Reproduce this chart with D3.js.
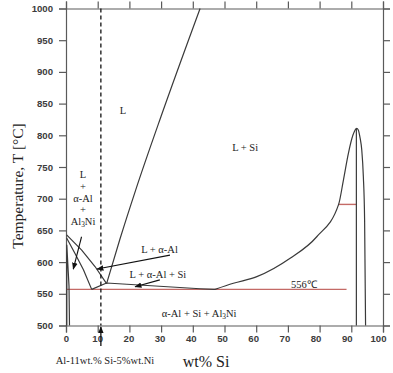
<!DOCTYPE html>
<html><head><meta charset="utf-8">
<script src="https://cdn.jsdelivr.net/npm/d3@7"></script>
<style>html,body{margin:0;padding:0;background:#fff;}svg{display:block;}</style>
</head><body>
<svg id="c" width="393" height="373"></svg>
<script>
// ---- data (wt% Si, Temperature °C) ----
const xTicks = [0,10,20,30,40,50,60,70,80,90,100];
const yTicks = [500,550,600,650,700,750,800,850,900,950,1000];
const liquidusAl = [[12.8,566],[17,636],[22,714],[30,830],[42.3,1000]];
const alphaLiquidus = [[0.2,643],[4.95,619],[9.15,593],[12.8,566]];
const alphaSolvus = [[0.2,638],[2.8,614],[5.5,588],[8.1,557]];
const threePhase = [[8.1,557],[12.8,567],[42.3,558],[47,557]];
const siLiquidus = [[47,557],[52.8,566.6],[60.2,577],[70.7,606],[79.1,640],[86,691],[87.5,729],[89.1,772],[90.5,800],[91.7,811],[92.2,808.5],[92.8,795],[93.3,777],[93.8,735],[94.2,666],[94.5,500]];
const siVertical = [[91.6,811],[91.6,500]];
const alSolidus = [[0.25,500],[0.25,627],[0.95,562],[1.1,500]];
const eutectic = [[0.2,557],[88.5,557]];
const peritecticTie = [[86,691],[91.6,691]];
const alloyX = 11;
const regionLabels = [
  {t:"L", x:18, y:836},
  {t:"L + Si", x:56.5, y:779},
  {t:"L + α-Al", x:29.5, y:617},
  {t:"L + α-Al + Si", x:29, y:578},
  {t:"α-Al + Si + Al|3|Ni", x:42, y:516},
  {t:"556℃", x:75, y:562}
];
const stackLabel = ["L","+","α-Al","+","Al|3|Ni"];
const arrows = [
  {from:[4.9,640], to:[2.3,589]},
  {from:[32.8,611], to:[9.8,589]},
  {from:[29.6,572], to:[21.8,561]}
];

// ---- chart ----
const svg = d3.select("#c");
const x = d3.scaleLinear().domain([0,100]).range([66,383]);
const y = d3.scaleLinear().domain([500,1000]).range([325.5,8.5]);
const frame = "#5a5a5a", ink = "#3a3a3a", red = "#c46a66";

svg.append("defs").append("marker").attr("id","ah").attr("viewBox","0 0 10 10")
  .attr("refX",9).attr("refY",5).attr("markerWidth",7).attr("markerHeight",7)
  .attr("orient","auto-start-reverse").attr("markerUnits","userSpaceOnUse")
  .append("path").attr("d","M0,1 L10,5 L0,9 Z").attr("fill","#111");

function axisStyle(g){
  g.select(".domain").attr("stroke",frame).attr("stroke-width",1.2);
  g.selectAll(".tick line").attr("stroke",frame).attr("stroke-width",1.2);
  g.selectAll(".tick text").attr("fill","#3c3c3c").attr("font-family","'Liberation Sans',Arial,sans-serif")
    .attr("font-weight","bold").attr("font-size","9.6px");
}
const fmt = d3.format("d");
svg.append("g").attr("transform","translate(66,0)")
  .call(d3.axisLeft(y).tickValues(yTicks).tickSize(7).tickPadding(6).tickFormat(fmt)).call(axisStyle);
const bx = svg.append("g").attr("transform","translate(0,325.5)")
  .call(d3.axisBottom(x).tickValues(xTicks).tickSize(7).tickPadding(3).tickFormat(fmt)).call(axisStyle);
bx.selectAll(".tick text").attr("dx", d => -d*0.05);
svg.append("g").attr("transform","translate(0,8.5)")
  .call(d3.axisTop(x).tickValues(xTicks).tickSize(7).tickFormat("")).call(axisStyle);
svg.append("g").attr("transform","translate(383,0)")
  .call(d3.axisRight(y).tickValues(yTicks).tickSize(7).tickFormat("")).call(axisStyle);

const line = d3.line().x(d=>x(d[0])).y(d=>y(d[1]));
const smooth = d3.line().x(d=>x(d[0])).y(d=>y(d[1])).curve(d3.curveMonotoneX);
function path(data, color, w, gen){
  svg.append("path").datum(data).attr("d",(gen||line)).attr("fill","none")
    .attr("stroke",color).attr("stroke-width",w).attr("stroke-linejoin","round");
}
path(eutectic, red, 1.4);
path(peritecticTie, red, 1.4);
path(liquidusAl, ink, 1.2, smooth);
path(siLiquidus, ink, 1.2, smooth);
[alphaLiquidus, alphaSolvus, threePhase, siVertical, alSolidus].forEach(d=>path(d, ink, 1.2));

// alloy composition line
svg.append("line").attr("x1",x(alloyX)).attr("x2",x(alloyX)).attr("y1",y(1000)).attr("y2",y(500))
  .attr("stroke","#111").attr("stroke-width",1.3).attr("stroke-dasharray","4,3");
svg.append("line").attr("x1",x(alloyX)).attr("x2",x(alloyX)).attr("y1",346).attr("y2",y(500)+1.5)
  .attr("stroke","#111").attr("stroke-width",1.3).attr("marker-end","url(#ah)");

arrows.forEach(a=>{
  svg.append("line").attr("x1",x(a.from[0])).attr("y1",y(a.from[1]))
    .attr("x2",x(a.to[0])).attr("y2",y(a.to[1]))
    .attr("stroke","#111").attr("stroke-width",1.1).attr("marker-end","url(#ah)");
});

function addText(sel, t){
  const parts = t.split("|");
  parts.forEach((p,i)=>{
    if(i===1) sel.append("tspan").attr("font-size","70%").attr("dy","2").text(p);
    else if(i===2) sel.append("tspan").attr("dy","-2").text(p);
    else sel.append("tspan").text(p);
  });
}
const serif = "'Liberation Serif','Times New Roman',serif";
regionLabels.forEach(l=>{
  const t = svg.append("text").attr("x",x(l.x)).attr("y",y(l.y)).attr("text-anchor","middle")
    .attr("dominant-baseline","middle").attr("font-family",serif).attr("font-size","10.5px").attr("fill","#222");
  addText(t, l.t);
});
stackLabel.forEach((s,i)=>{
  const t = svg.append("text").attr("x",83).attr("y",176+i*11.8).attr("text-anchor","middle")
    .attr("dominant-baseline","middle").attr("font-family",serif).attr("font-size","10.5px").attr("fill","#222");
  addText(t, s);
});

svg.append("text").attr("transform","translate(19,186) rotate(-90)").attr("text-anchor","middle")
  .attr("dominant-baseline","middle").attr("font-family",serif).attr("font-size","15.5px").attr("fill","#222")
  .text("Temperature, T [°C]");
svg.append("text").attr("x",206).attr("y",363).attr("text-anchor","middle").attr("dominant-baseline","middle")
  .attr("font-family",serif).attr("font-size","16px").attr("fill","#222").text("wt% Si");
svg.append("text").attr("x",105).attr("y",362).attr("text-anchor","middle").attr("dominant-baseline","middle")
  .attr("font-family",serif).attr("font-size","10.5px").attr("fill","#222").text("Al-11wt.% Si-5%wt.Ni");
</script>
</body></html>
